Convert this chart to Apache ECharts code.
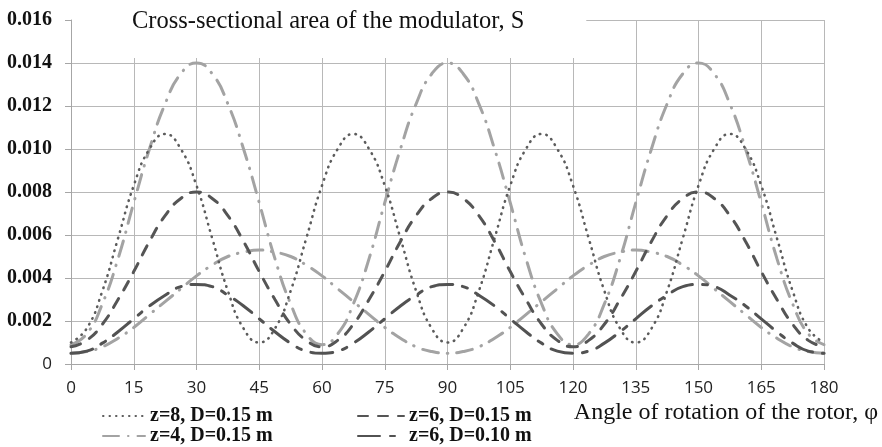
<!DOCTYPE html>
<html>
<head>
<meta charset="utf-8">
<title>Cross-sectional area of the modulator</title>
<script src="https://cdn.jsdelivr.net/npm/echarts@6/dist/echarts.min.js"></script>
<style>
  html, body { margin: 0; padding: 0; background: #fff; }
  #chart { width: 882px; height: 447px; }
</style>
</head>
<body>
<div id="chart"></div>
<script>
// angle of rotation, degrees
var angles = [0, 3.75, 7.5, 11.25, 15, 18.75, 22.5, 26.25, 30, 33.75, 37.5, 41.25,
  45, 48.75, 52.5, 56.25, 60, 63.75, 67.5, 71.25, 75, 78.75, 82.5, 86.25,
  90, 93.75, 97.5, 101.25, 105, 108.75, 112.5, 116.25, 120, 123.75, 127.5, 131.25,
  135, 138.75, 142.5, 146.25, 150, 153.75, 157.5, 161.25, 165, 168.75, 172.5, 176.25, 180];

// z=8, D=0.15 m
var z8d15 = [0.0010, 0.00165, 0.0034, 0.00585, 0.0083, 0.0100, 0.0107, 0.0100, 0.0083, 0.00585, 0.0034, 0.00165,
  0.0010, 0.00165, 0.0034, 0.00585, 0.0083, 0.0100, 0.0107, 0.0100, 0.0083, 0.00585, 0.0034, 0.00165,
  0.0010, 0.00165, 0.0034, 0.00585, 0.0083, 0.0100, 0.0107, 0.0100, 0.0083, 0.00585, 0.0034, 0.00165,
  0.0010, 0.00165, 0.0034, 0.00585, 0.0083, 0.0100, 0.0107, 0.0100, 0.0083, 0.00585, 0.0034, 0.00165,
  0.0010];

// z=4, D=0.15 m
var z4d15 = [0.0005, 0.00058, 0.0008, 0.0012, 0.0017, 0.0023, 0.0029, 0.0035, 0.0041, 0.0046, 0.0050, 0.0052,
  0.0053, 0.0052, 0.0050, 0.0046, 0.0041, 0.0035, 0.0029, 0.0023, 0.0017, 0.0012, 0.0008, 0.00058,
  0.0005, 0.00058, 0.0008, 0.0012, 0.0017, 0.0023, 0.0029, 0.0035, 0.0041, 0.0046, 0.0050, 0.0052,
  0.0053, 0.0052, 0.0050, 0.0046, 0.0041, 0.0035, 0.0029, 0.0023, 0.0017, 0.0012, 0.0008, 0.00058,
  0.0005];

// z=6, D=0.15 m
var z6d15 = [0.0008, 0.0011, 0.00185, 0.0030, 0.0043, 0.0057, 0.0069, 0.0077, 0.0080, 0.0077, 0.0069, 0.0057,
  0.0043, 0.0030, 0.00185, 0.0011, 0.0008, 0.0011, 0.00185, 0.0030, 0.0043, 0.0057, 0.0069, 0.0077,
  0.0080, 0.0077, 0.0069, 0.0057, 0.0043, 0.0030, 0.00185, 0.0011, 0.0008, 0.0011, 0.00185, 0.0030,
  0.0043, 0.0057, 0.0069, 0.0077, 0.0080, 0.0077, 0.0069, 0.0057, 0.0043, 0.0030, 0.00185, 0.0011,
  0.0008];

// z=6, D=0.10 m
var z6d10 = [0.0005, 0.0006, 0.00097, 0.0015, 0.0021, 0.0027, 0.0032, 0.0036, 0.0037, 0.0036, 0.0032, 0.0027,
  0.0021, 0.0015, 0.00097, 0.0006, 0.0005, 0.0006, 0.00097, 0.0015, 0.0021, 0.0027, 0.0032, 0.0036,
  0.0037, 0.0036, 0.0032, 0.0027, 0.0021, 0.0015, 0.00097, 0.0006, 0.0005, 0.0006, 0.00097, 0.0015,
  0.0021, 0.0027, 0.0032, 0.0036, 0.0037, 0.0036, 0.0032, 0.0027, 0.0021, 0.0015, 0.00097, 0.0006,
  0.0005];

// 6 windows, D=0.20 m (drawn, no legend entry in the original)
var z6d20 = [0.0009, 0.0014, 0.0028, 0.0049, 0.0075, 0.0100, 0.0121, 0.0135, 0.0140, 0.0135, 0.0121, 0.0100,
  0.0075, 0.0049, 0.0028, 0.0014, 0.0009, 0.0014, 0.0028, 0.0049, 0.0075, 0.0100, 0.0121, 0.0135,
  0.0140, 0.0135, 0.0121, 0.0100, 0.0075, 0.0049, 0.0028, 0.0014, 0.0009, 0.0014, 0.0028, 0.0049,
  0.0075, 0.0100, 0.0121, 0.0135, 0.0140, 0.0135, 0.0121, 0.0100, 0.0075, 0.0049, 0.0028, 0.0014,
  0.0009];

var xTicks = [0, 15, 30, 45, 60, 75, 90, 105, 120, 135, 150, 165, 180];
var yTicks = [0, 0.002, 0.004, 0.006, 0.008, 0.010, 0.012, 0.014, 0.016];

function pairs(vals) {
  return angles.map(function (a, i) { return [a, vals[i]]; });
}

var serif = 'Liberation Serif, Times New Roman, serif';
var sans = 'Open Sans, Liberation Sans, sans-serif';

function line(name, vals, color, dash, width) {
  return {
    name: name,
    type: 'line',
    smooth: true,
    symbol: 'none',
    data: pairs(vals),
    lineStyle: { color: color, width: width || 3, type: dash, cap: 'round' },
    itemStyle: { color: color }
  };
}

var chart = echarts.init(document.getElementById('chart'), null, { renderer: 'canvas' });

var legendText = { fontFamily: serif, fontWeight: 'bold', fontSize: 20, color: '#111', lineHeight: 20 };

var option = {
  animation: false,
  backgroundColor: '#fff',
  title: {
    text: 'Cross-sectional area of the modulator, S',
    left: 72,
    top: 0,
    padding: [9, 62, 24, 60],
    backgroundColor: '#fff',
    textStyle: { fontFamily: serif, fontWeight: 'normal', fontSize: 24.5, color: '#111' }
  },
  // legend icons: line only, hide the marker circle
  legend: [{
    data: ['z=8, D=0.15 m', 'z=4, D=0.15 m'],
    orient: 'vertical',
    left: 102,
    top: 406,
    itemWidth: 42,
    itemHeight: 14,
    itemGap: 0,
    padding: 0,
    itemStyle: { opacity: 0 },
    textStyle: legendText
  }, {
    data: ['z=6, D=0.15 m', 'z=6, D=0.10 m'],
    orient: 'vertical',
    left: 357,
    top: 406,
    itemWidth: 46,
    itemHeight: 14,
    itemGap: 0,
    padding: 0,
    itemStyle: { opacity: 0 },
    textStyle: legendText
  }],
  grid: { left: 71, right: 58, top: 20, bottom: 83 },
  xAxis: {
    type: 'value',
    min: 0,
    max: 180,
    interval: 15,
    name: 'Angle of rotation of the rotor, φ',
    nameLocation: 'end',
    nameGap: 54,
    nameTextStyle: {
      fontFamily: serif, fontSize: 24, color: '#111',
      align: 'right', verticalAlign: 'top', padding: [37, 0, 0, 0]
    },
    axisLine: { show: true, lineStyle: { color: '#a6a6a6', width: 1 } },
    axisTick: { show: true, length: 6, lineStyle: { color: '#a6a6a6' } },
    axisLabel: {
      margin: 16,
      fontFamily: sans, fontSize: 17, color: '#222',
      formatter: function (v) { return xTicks.indexOf(v) >= 0 ? String(v) : ''; }
    },
    splitLine: { show: true, lineStyle: { color: '#b8b8b8', width: 1 } }
  },
  yAxis: {
    type: 'value',
    min: 0,
    max: 0.016,
    interval: 0.002,
    axisLine: { show: true, lineStyle: { color: '#a6a6a6', width: 1 } },
    axisTick: { show: true, length: 6, lineStyle: { color: '#a6a6a6' } },
    axisLabel: {
      margin: 19,
      fontFamily: serif, fontWeight: 'bold', fontSize: 20, color: '#111',
      formatter: function (v) {
        var i = yTicks.findIndex(function (t) { return Math.abs(t - v) < 1e-9; });
        if (i === 0) return '{s|0}';
        return v.toFixed(3);
      },
      rich: { s: { fontFamily: sans, fontWeight: 'normal', fontSize: 17, color: '#222' } }
    },
    splitLine: { show: true, lineStyle: { color: '#b8b8b8', width: 1 } }
  },
  series: [
    line('z=6, D=0.20 m', z6d20, '#a3a3a3', [16, 9, 0.5, 9]),
    line('z=4, D=0.15 m', z4d15, '#a3a3a3', [16, 9, 0.5, 9]),
    line('z=8, D=0.15 m', z8d15, '#5c5c5c', [0.5, 6], 2.6),
    line('z=6, D=0.15 m', z6d15, '#555555', [10, 10]),
    line('z=6, D=0.10 m', z6d10, '#525252', [22, 10, 5, 10])
  ]
};

chart.setOption(option);
</script>
</body>
</html>
